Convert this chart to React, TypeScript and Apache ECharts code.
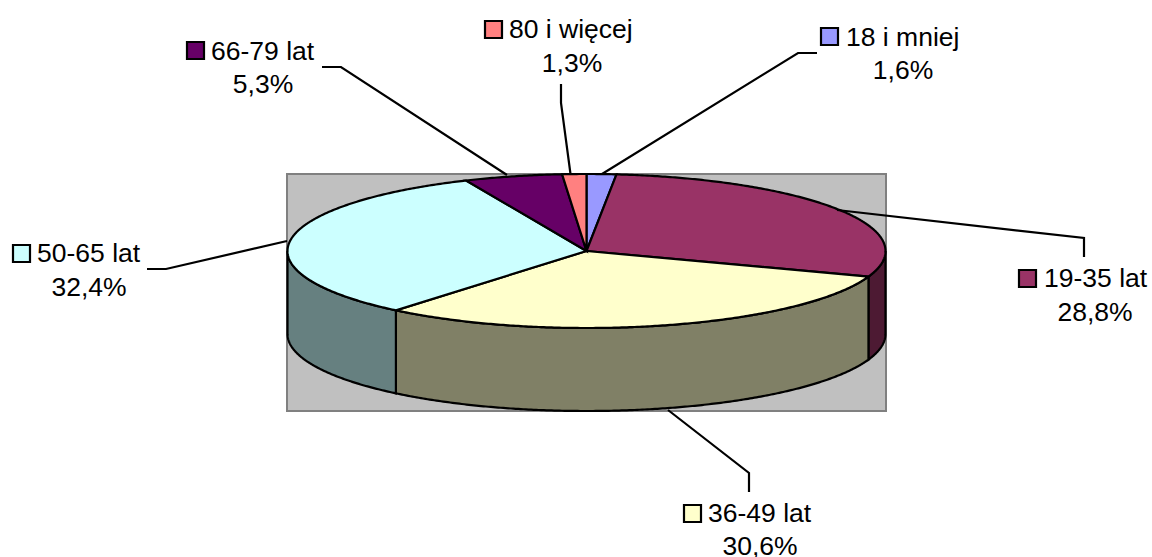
import React, { useEffect, useRef } from "react";
import * as echarts from "echarts";

const categories = ["18 i mniej", "19-35 lat", "36-49 lat", "50-65 lat", "66-79 lat", "80 i więcej"];
const shares = [1.6, 28.8, 30.6, 32.4, 5.3, 1.3];

const topColors = ["#9999FF", "#993366", "#FFFFCC", "#CCFFFF", "#660066", "#FF8080"];
const sideColors = ["#4D4D80", "#4D1A33", "#808066", "#668080", "#330033", "#804040"];

const CX = 586.5, CY = 251, RX = 299, RY = 77, DEPTH = 83;
const PLOT = { x: 287, y: 174, width: 599, height: 237 };
const FONT = "Liberation Sans, Arial, sans-serif";
const FONT_SIZE = 26.5;

// key box left/top, name left and mid-line, percentage centre and mid-line
const labelLayout = [
  { kx: 821, ky: 28, nx: 846, ny: 37, px: 903, py: 70 },
  { kx: 1019, ky: 270, nx: 1044, ny: 278, px: 1095, py: 312 },
  { kx: 684, ky: 505, nx: 708, ny: 513, px: 760, py: 546 },
  { kx: 13, ky: 245, nx: 37, ny: 253, px: 89, py: 287 },
  { kx: 187, ky: 42, nx: 211, ny: 51, px: 263, py: 84 },
  { kx: 485, ky: 21, nx: 509, ny: 29, px: 572, py: 63 },
];
const leaders: number[][][] = [
  [[817, 53], [798, 53], [602, 174]],
  [[837, 210], [1084, 238], [1084, 257]],
  [[668, 410], [749, 473], [749, 492]],
  [[147, 269], [166, 269], [287, 241]],
  [[322, 67], [341, 67], [507, 175]],
  [[561, 84], [561, 103], [570.5, 174]],
];

const total = shares.reduce((a, b) => a + b, 0);
const pt = (deg: number, dy = 0) => {
  const r = (deg * Math.PI) / 180;
  return [CX + RX * Math.sin(r), CY - RY * Math.cos(r) + dy];
};
const arc = (a: number, b: number, dy = 0) => {
  const pts: number[][] = [];
  const n = Math.max(2, Math.ceil((b - a) * 2));
  for (let i = 0; i <= n; i++) pts.push(pt(a + ((b - a) * i) / n, dy));
  return pts;
};
const startAngle = (i: number) =>
  (shares.slice(0, i).reduce((a, b) => a + b, 0) / total) * 360;

const fmt = (v: number) => v.toFixed(1).replace(".", ",") + "%";

export default function App() {
  const ref = useRef<HTMLDivElement>(null);
  useEffect(() => {
    document.body.style.margin = "0";
    const chart = echarts.init(ref.current!, undefined, { renderer: "svg" });
    const black = { stroke: "#000", lineWidth: 2.2, lineJoin: "miter" };
    const textStyle = (text: string, x: number, y: number, align: string) => ({
      text, x, y, align, verticalAlign: "middle", fill: "#000",
      fontFamily: FONT, fontSize: FONT_SIZE,
    });
    chart.setOption({
      animation: false,
      backgroundColor: "#fff",
      series: [
        {
          type: "custom",
          coordinateSystem: "none",
          silent: true,
          z: 1,
          data: [0],
          renderItem: () => ({
            type: "rect",
            shape: PLOT,
            style: { fill: "#C0C0C0", stroke: "#808080", lineWidth: 2 },
          }),
        },
        {
          type: "custom",
          coordinateSystem: "none",
          silent: true,
          z: 2,
          data: shares.map((v, i) => [i, v]),
          renderItem: (_: any, api: any) => {
            const i = api.value(0);
            const a = startAngle(i);
            const b = a + (api.value(1) / total) * 360;
            const children: any[] = [];
            const sa = Math.max(a, 90), sb = Math.min(b, 270);
            if (sb > sa) {
              const front = arc(sa, sb);
              const back = arc(sa, sb, DEPTH).reverse();
              children.push({
                type: "polygon",
                shape: { points: [...front, ...back] },
                style: { fill: sideColors[i], ...black },
              });
            }
            return { type: "group", children };
          },
        },
        {
          type: "custom",
          coordinateSystem: "none",
          silent: true,
          z: 3,
          data: shares.map((v, i) => [i, v]),
          renderItem: (_: any, api: any) => {
            const i = api.value(0);
            const a = startAngle(i);
            const b = a + (api.value(1) / total) * 360;
            return {
              type: "polygon",
              shape: { points: [[CX, CY], ...arc(a, b)] },
              style: { fill: topColors[i], ...black },
            };
          },
        },
        {
          type: "custom",
          coordinateSystem: "none",
          silent: true,
          z: 4,
          data: shares.map((v, i) => [i, v]),
          renderItem: (_: any, api: any) => {
            const i = api.value(0);
            const l = labelLayout[i];
            return {
              type: "group",
              children: [
                {
                  type: "polyline",
                  shape: { points: leaders[i] },
                  style: { fill: "none", ...black },
                },
                {
                  type: "rect",
                  shape: { x: l.kx, y: l.ky, width: 17, height: 17 },
                  style: { fill: topColors[i], ...black },
                },
                { type: "text", style: textStyle(categories[i], l.nx, l.ny, "left") },
                { type: "text", style: textStyle(fmt(api.value(1)), l.px, l.py, "center") },
              ],
            };
          },
        },
      ],
    });
    return () => chart.dispose();
  }, []);
  return <div ref={ref} style={{ position: "absolute", left: 0, top: 0, width: 1152, height: 557 }} />;
}
